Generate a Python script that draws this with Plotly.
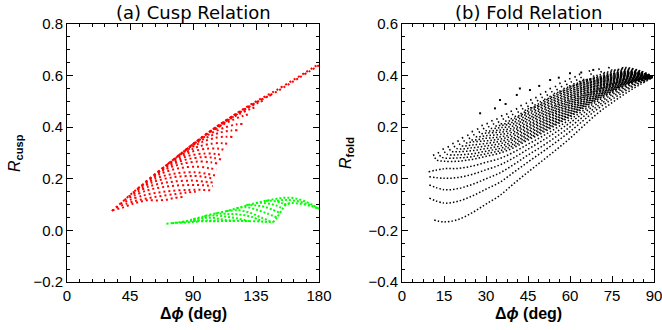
import plotly.graph_objects as go

# ---------------- data ----------------
# (a) Cusp relation - red family of arcs (deg, Rcusp)
red_env_x = [32, 36, 40, 45, 50, 55, 60, 65, 70, 75, 80, 85, 90, 95, 100, 105, 110, 115, 120,
             125, 130, 135, 140, 145, 150, 160, 170, 180]
red_env_y = [.075, .094, .113, .137, .160, .182, .205, .227, .249, .270, .292, .313, .335, .355,
             .375, .395, .414, .432, .450, .467, .484, .500, .515, .530, .545, .578, .611, .645]

red_arcs_x = [
    [32.4, 39.5, 46.7, 51.4, 57, 64, 71, 76, 82.6],
    [35, 49.25, 63.5, 77.75, 86.3, 92],
    [38, 54.3, 70.65, 87, 96.8, 103.3],
    [41, 56.75, 72.5, 88.25, 97.7, 104],
    [44, 59.1, 74.25, 89.4, 98.45, 104.5],
    [47, 61.55, 76.1, 90.65, 99.4, 105.2],
    [50, 63.9, 77.85, 91.8, 100.1, 105.7],
    [53, 66.5, 80, 93.5, 101.6, 107],
    [56, 69, 82, 95, 102.8, 108],
    [59, 71.75, 84.5, 97.25, 104.9, 110],
    [62, 74.4, 86.75, 99.1, 106.55, 111.5],
    [65, 77.25, 89.5, 101.75, 109.1, 114],
    [68, 80, 92, 104, 111.2, 116],
    [72, 83.7, 95.4, 107.1, 114.1, 118.8],
    [76, 87.5, 99, 110.5, 117.4, 122],
    [80, 91.5, 103, 114.5, 121.4, 126],
    [85, 96.5, 108, 119.5, 126.4, 131],
    [90, 101.4, 112.75, 124.1, 131, 135.5],
    [96, 107.25, 118.5, 129.75, 136.5, 141],
    [102, 113.25, 124.5, 135.75, 142.5, 147],
    [106, 120, 135, 150, 165, 180],
]
red_arcs_y = [
    [.078, .088, .103, .110, .117, .116, .119, .125, .130],
    [.089, .115, .130, .141, .147, .150],
    [.1035, .135, .151, .157, .157, .155],
    [.118, .154, .171, .176, .175, .172],
    [.132, .171, .188, .193, .189, .185],
    [.146, .1875, .206, .211, .206, .200],
    [.160, .202, .221, .225, .219, .213],
    [.173, .218, .241, .247, .241, .236],
    [.187, .233, .258, .267, .264, .258],
    [.2005, .246, .274, .284, .281, .275],
    [.214, .259, .289, .298, .296, .290],
    [.227, .274, .3055, .3175, .316, .310],
    [.240, .287, .321, .337, .338, .335],
    [.2575, .304, .340, .360, .363, .362],
    [.274, .3215, .358, .381, .387, .388],
    [.292, .339, .377, .402, .411, .413],
    [.313, .360, .400, .431, .445, .452],
    [.335, .380, .420, .4535, .4705, .480],
    [.359, .403, .442, .477, .4945, .505],
    [.383, .425, .4635, .498, .5165, .528],
    [.392, .445, .495, .539, .589, .640],
]

# (a) Cusp relation - green family
green_arcs_x = [
    [71, 78, 85, 90, 96, 102, 108, 114, 120, 126, 132, 138, 144, 150, 157, 164, 171, 176, 180],
    [75, 80, 85, 90, 95],
    [82, 88.5, 95, 101.5, 108],
    [90, 97.5, 105, 112.5, 120],
    [98, 106, 114, 122, 130],
    [106, 114.5, 123, 131.5, 140],
    [114, 122.25, 130.5, 138.75, 147],
    [121, 128.25, 135.5, 142.75, 150],
    [128, 134, 140, 146, 152],
    [135, 139.75, 144.5, 149.25, 154],
    [142, 145.5, 149, 152.5, 156],
    [150, 157, 165, 172, 180],
    [155, 160, 168, 175, 180],
    [147, 150, 153, 156, 160],
    [90, 100, 110, 120, 130, 140, 147],
]
green_arcs_y = [
    [.026, .030, .036, .043, .052, .061, .068, .075, .084, .093, .102, .110, .117, .123, .127,
     .123, .110, .097, .084],
    [.028, .030, .0305, .033, .035],
    [.033, .036, .039, .038, .036],
    [.043, .048, .048, .041, .037],
    [.055, .058, .053, .046, .036],
    [.066, .064, .062, .053, .034],
    [.075, .078, .0685, .050, .031],
    [.0855, .090, .080, .066, .050],
    [.099, .097, .093, .082, .068],
    [.1057, .107, .103, .097, .085],
    [.1148, .115, .113, .108, .100],
    [.115, .118, .113, .101, .084],
    [.100, .106, .102, .093, .084],
    [.031, .050, .075, .098, .105],
    [.037, .035, .036, .037, .036, .034, .031],
]

# (b) Fold relation - black family of arcs (deg, Rfold)
fold_arcs_x = [
    [11.5, 15, 20, 25, 30, 35, 40, 45, 50, 55, 60, 65, 70, 75, 80, 85, 89.5],
    [9.75, 15, 20, 25, 30, 35, 40, 45, 50, 55, 60, 65, 70, 75, 80, 85, 89.5],
    [9.75, 15, 20, 25, 30, 35, 40, 45, 50, 55, 60, 65, 70, 75, 80, 85, 89.5],
    [9.75, 15, 20, 25, 30, 35, 40, 45, 50, 55, 60, 65, 70, 75, 80, 85, 89.5],
    [9.5, 15, 20, 25, 30, 35, 40, 45, 50, 55, 60, 65, 70, 75, 80, 85, 89.5],
    [11.2, 12.4, 15, 20, 25, 30, 35, 40, 45, 50, 55, 60, 65, 70, 75, 80, 85, 89.5],
    [12.9, 14.1, 20, 25, 30, 35, 40, 45, 50, 55, 60, 65, 70, 75, 80, 85, 89.5],
    [14.6, 15.9, 20, 25, 30, 35, 40, 45, 50, 55, 60, 65, 70, 75, 80, 85, 89.5],
    [16.4, 17.6, 20, 25, 30, 35, 40, 45, 50, 55, 60, 65, 70, 75, 80, 85, 89.5],
    [18.1, 19.4, 25, 30, 35, 40, 45, 50, 55, 60, 65, 70, 75, 80, 85, 89.5],
    [19.9, 21.1, 25, 30, 35, 40, 45, 50, 55, 60, 65, 70, 75, 80, 85, 89.5],
    [21.5, 22.8, 25, 30, 35, 40, 45, 50, 55, 60, 65, 70, 75, 80, 85, 89.5],
    [23.4, 24.6, 30, 35, 40, 45, 50, 55, 60, 65, 70, 75, 80, 85, 89.5],
    [25, 26.3, 30, 35, 40, 45, 50, 55, 60, 65, 70, 75, 80, 85, 89.5],
    [26.9, 28.1, 30, 35, 40, 45, 50, 55, 60, 65, 70, 75, 80, 85, 89.5],
    [28.5, 29.8, 35, 40, 45, 50, 55, 60, 65, 70, 75, 80, 85, 89.5],
    [30.3, 31.5, 35, 40, 45, 50, 55, 60, 65, 70, 75, 80, 85, 89.5],
    [32, 33.3, 35, 40, 45, 50, 55, 60, 65, 70, 75, 80, 85, 89.5],
    [33.8, 35, 40, 45, 50, 55, 60, 65, 70, 75, 80, 85, 89.5],
    [35.5, 36.8, 40, 45, 50, 55, 60, 65, 70, 75, 80, 85, 89.5],
    [37.3, 38.5, 40, 45, 50, 55, 60, 65, 70, 75, 80, 85, 89.5],
    [38.9, 40.2, 45, 50, 55, 60, 65, 70, 75, 80, 85, 89.5],
    [40.8, 42, 45, 50, 55, 60, 65, 70, 75, 80, 85, 89.5],
    [42.4, 43.7, 45, 50, 55, 60, 65, 70, 75, 80, 85, 89.5],
    [44.3, 45.5, 50, 55, 60, 65, 70, 75, 80, 85, 89.5],
    [45.9, 47.2, 50, 55, 60, 65, 70, 75, 80, 85, 89.5],
    [47.7, 48.9, 50, 55, 60, 65, 70, 75, 80, 85, 89.5],
    [49.4, 50.7, 55, 60, 65, 70, 75, 80, 85, 89.5],
    [51.2, 52.4, 55, 60, 65, 70, 75, 80, 85, 89.5],
    [52.8, 54.1, 55, 60, 65, 70, 75, 80, 85, 89.5],
    [54.7, 55.9, 60, 65, 70, 75, 80, 85, 89.5],
    [56.3, 57.6, 60, 65, 70, 75, 80, 85, 89.5],
    [58.2, 59.4, 65, 70, 75, 80, 85, 89.5],
    [59.8, 61.1, 65, 70, 75, 80, 85, 89.5],
    [61.7, 62.9, 65, 70, 75, 80, 85, 89.5],
    [63.3, 64.6, 70, 75, 80, 85, 89.5],
    [66.8, 68.1, 70, 75, 80, 85, 89.5],
    [70.2, 71.5, 75, 80, 85, 89.5],
    [73.7, 75, 80, 85, 89.5],
    [78.5, 80, 85, 89.5],
]
fold_arcs_y = [
    [-.160, -.167, -.158, -.132, -.098, -.064, -.018, .026, .069, .112, .157, .207, .255, .295,
     .332, .365, .392],
    [-.075, -.094, -.087, -.067, -.040, -.013, .026, .065, .103, .142, .183, .228, .272, .308,
     .342, .371, .392],
    [-.024, -.042, -.038, -.022, .000, .023, .056, .092, .126, .163, .201, .243, .283, .318,
     .349, .374, .393],
    [.008, .002, .005, .017, .035, .054, .082, .115, .147, .181, .217, .256, .293, .326, .355,
     .378, .393],
    [.027, .039, .040, .049, .064, .079, .104, .134, .164, .196, .230, .266, .302, .333, .360,
     .380, .393],
    [.095, .073, .068, .068, .075, .087, .100, .121, .150, .177, .208, .240, .275, .308, .338,
     .364, .383, .394],
    [.104, .084, .081, .086, .097, .109, .129, .156, .183, .213, .244, .279, .311, .340, .366,
     .384, .394],
    [.118, .096, .093, .097, .107, .118, .136, .163, .189, .218, .249, .282, .314, .343, .368,
     .385, .394],
    [.127, .107, .105, .109, .117, .127, .144, .170, .195, .223, .2535, .286, .317, .345, .370,
     .385, .394],
    [.140, .118, .120, .127, .136, .152, .177, .201, .229, .258, .290, .320, .347, .371, .386,
     .394],
    [.149, .129, .131, .137, .145, .159, .183, .207, .234, .2625, .293, .323, .350, .373, .387,
     .394],
    [.162, .140, .143, .147, .154, .167, .190, .213, .239, .267, .297, .326, .352, .375, .388,
     .394],
    [.172, .152, .157, .1625, .1745, .197, .2185, .244, .2716, .301, .329, .354, .377, .389,
     .394],
    [.186, .164, .167, .172, .182, .204, .224, .250, .276, .305, .332, .357, .378, .390, .394],
    [.196, .176, .1775, .1805, .1897, .210, .230, .255, .2807, .308, .335, .359, .380, .391,
     .394],
    [.210, .188, .189, .197, .217, .236, .260, .285, .312, .338, .361, .382, .392, .394],
    [.217, .197, .198, .205, .224, .242, .265, .290, .316, .341, .364, .384, .393, .395],
    [.228, .206, .207, .213, .231, .248, .270, .294, .319, .344, .366, .386, .394, .395],
    [.235, .215, .220, .237, .254, .276, .299, .323, .346, .368, .387, .395, .395],
    [.247, .225, .228, .244, .260, .281, .303, .327, .349, .371, .389, .396, .395],
    [.254, .234, .235, .251, .266, .286, .308, .3305, .352, .373, .391, .397, .395],
    [.265, .243, .258, .272, .291, .312, .334, .355, .375, .393, .398, .395],
    [.274, .254, .264, .278, .297, .317, .338, .358, .378, .394, .399, .395],
    [.287, .265, .271, .284, .302, .321, .342, .361, .380, .396, .400, .395],
    [.296, .276, .2895, .307, .326, .345, .364, .382, .398, .401, .395],
    [.309, .287, .295, .312, .331, .349, .367, .385, .400, .402, .395],
    [.318, .298, .301, .318, .335, .353, .370, .387, .401, .403, .395],
    [.331, .309, .323, .340, .356, .373, .389, .403, .404, .396],
    [.340, .320, .328, .344, .360, .376, .392, .405, .405, .396],
    [.353, .331, .333, .349, .364, .379, .394, .407, .406, .396],
    [.361, .341, .353, .368, .3815, .3965, .4085, .407, .396],
    [.373, .351, .358, .371, .384, .399, .410, .408, .396],
    [.381, .361, .375, .387, .401, .412, .409, .396],
    [.391, .369, .379, .390, .404, .414, .410, .396],
    [.398, .378, .382, .393, .406, .4156, .4105, .396],
    [.408, .386, .396, .408, .417, .411, .396],
    [.421, .399, .402, .413, .421, .413, .396],
    [.428, .412, .418, .424, .415, .397],
    [.433, .422, .428, .417, .397],
    [.430, .4315, .419, .397],
]

fold_sparse_x = [27.9, 33.2, 35, 37, 41, 42.1, 45.7, 49, 52.9, 56, 60, 64, 68.3]
fold_sparse_y = [.254, .273, .305, .290, .325, .350, .344, .360, .383, .392, .409, .412, .422]

# axes ticks
cusp_x_ticks = [0, 45, 90, 135, 180]
fold_x_ticks = [0, 15, 30, 45, 60, 75, 90]
cusp_y_ticks = [-0.2, 0.0, 0.2, 0.4, 0.6, 0.8]
fold_y_ticks = [-0.4, -0.2, 0.0, 0.2, 0.4, 0.6]


def joined(arcs_x, arcs_y):
    xs, ys = [], []
    for ax, ay in zip(arcs_x, arcs_y):
        xs += list(ax) + [None]
        ys += list(ay) + [None]
    return xs, ys


fig = go.Figure()

rx, ry = joined(red_arcs_x + [red_env_x], red_arcs_y + [red_env_y])
fig.add_trace(go.Scatter(x=rx, y=ry, mode="lines", xaxis="x", yaxis="y",
                         line=dict(color="#ff0000", width=2, dash="2px,3px", shape="spline"),
                         connectgaps=False, hoverinfo="skip"))
gx, gy = joined(green_arcs_x, green_arcs_y)
fig.add_trace(go.Scatter(x=gx, y=gy, mode="lines", xaxis="x", yaxis="y",
                         line=dict(color="#00ff00", width=2, dash="2px,2px", shape="spline"),
                         connectgaps=False, hoverinfo="skip"))
bx, by = joined(fold_arcs_x, fold_arcs_y)
fig.add_trace(go.Scatter(x=bx, y=by, mode="lines", xaxis="x2", yaxis="y2",
                         line=dict(color="black", width=1.5, dash="1.5px,2px", shape="spline"),
                         connectgaps=False, hoverinfo="skip"))
fig.add_trace(go.Scatter(x=fold_sparse_x, y=fold_sparse_y, mode="markers", xaxis="x2", yaxis="y2",
                         marker=dict(color="black", size=2, symbol="square"),
                         hoverinfo="skip"))

tickfont = dict(family="Liberation Sans, Arial, sans-serif", size=15, color="black")
common = dict(showline=True, linecolor="black", linewidth=1, mirror="ticks",
              ticks="inside", ticklen=6, tickwidth=1, tickcolor="black", automargin=False,
              ticklabeloverflow="allow",
              showgrid=False, zeroline=False, tickfont=tickfont)

W, H = 662, 330
xd1 = [67 / W, 319 / W]
xd2 = [402 / W, 654 / W]
yd = [1 - 282 / H, 1 - 24 / H]

fig.update_layout(
    width=W, height=H, margin=dict(l=0, r=0, t=0, b=0, autoexpand=False),
    paper_bgcolor="white", plot_bgcolor="white", showlegend=False,
    xaxis=dict(domain=xd1, anchor="y", range=[0, 180], tickvals=cusp_x_ticks,
               minor=dict(ticks="inside", ticklen=3, dtick=9, tick0=0, tickcolor="black"),
               **common),
    yaxis=dict(domain=yd, anchor="x", range=[-0.2, 0.8], tickvals=cusp_y_ticks, tickformat=".1f",
               minor=dict(ticks="inside", ticklen=3, dtick=0.05, tick0=0, tickcolor="black"),
               **common),
    xaxis2=dict(domain=xd2, anchor="y2", range=[0, 90], tickvals=fold_x_ticks,
                minor=dict(ticks="inside", ticklen=3, dtick=3.75, tick0=0, tickcolor="black"),
                **common),
    yaxis2=dict(domain=yd, anchor="x2", range=[-0.4, 0.6], tickvals=fold_y_ticks, tickformat=".1f",
                minor=dict(ticks="inside", ticklen=3, dtick=0.05, tick0=0, tickcolor="black"),
                **common),
)

title_font = dict(family="DejaVu Sans, sans-serif", size=18, color="black")
lab_font = dict(family="Liberation Sans, Arial, sans-serif", size=16, color="black")
ann = [
    dict(text="(a) Cusp Relation", x=193 / W, y=1 - 12 / H, font=title_font),
    dict(text="(b) Fold Relation", x=528 / W, y=1 - 12 / H, font=title_font),
    dict(text="<b>Δ<i>ϕ</i> (deg)</b>", x=193 / W, y=1 - 313 / H, font=lab_font),
    dict(text="<b>Δ<i>ϕ</i> (deg)</b>", x=528 / W, y=1 - 313 / H, font=lab_font),
    dict(text="<i>R</i><sub><b>cusp</b></sub>", x=15 / W, y=1 - 153 / H, font=lab_font,
         textangle=-90),
    dict(text="<i>R</i><sub><b>fold</b></sub>", x=346 / W, y=1 - 153 / H, font=lab_font,
         textangle=-90),
]
for a in ann:
    a.update(xref="paper", yref="paper", showarrow=False, xanchor="center", yanchor="middle")
fig.update_layout(annotations=ann)

fig.write_html("out.html")
